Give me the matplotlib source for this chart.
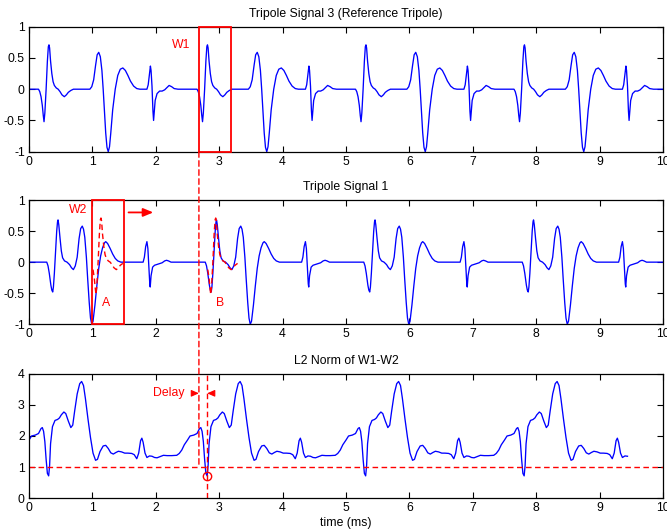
import numpy as np
import matplotlib
matplotlib.use("Agg")
import matplotlib.pyplot as plt
from matplotlib.patches import Rectangle, ConnectionPatch

plt.rcParams['font.family'] = ['Liberation Sans', 'DejaVu Sans']

# one beat of each trace (ms offset within a 2.5 ms cycle)
PERIOD = 2.5
beat_starts = [0.0, 2.5, 5.0, 7.5]

ref_t = [0.00, 0.15, 0.17, 0.19, 0.21, 0.225, 0.237, 0.25, 0.27, 0.29, 0.305, 0.315,
         0.325, 0.34, 0.36, 0.38, 0.40, 0.43, 0.46, 0.49, 0.52, 0.557, 0.59, 0.62,
         0.66, 0.70, 0.96, 0.99, 1.02, 1.05, 1.075, 1.10, 1.125, 1.15, 1.17, 1.19,
         1.21, 1.23, 1.25, 1.27, 1.29, 1.32, 1.36, 1.40, 1.44, 1.48, 1.52, 1.56,
         1.60, 1.65, 1.70, 1.75, 1.86, 1.88, 1.90, 1.915, 1.925, 1.94, 1.955, 1.965,
         1.975, 1.99, 2.02, 2.06, 2.10, 2.14, 2.17, 2.21, 2.25, 2.29, 2.35, 2.50]
ref_y = [0.00, 0.00, -0.04, -0.12, -0.26, -0.42, -0.52, -0.38, 0.00, 0.45, 0.68, 0.71,
         0.66, 0.45, 0.25, 0.12, 0.06, 0.02, 0.00, -0.04, -0.09, -0.12, -0.09, -0.05,
         -0.02, 0.00, 0.00, 0.04, 0.15, 0.38, 0.55, 0.59, 0.52, 0.30, 0.00, -0.35,
         -0.70, -0.93, -1.00, -0.92, -0.70, -0.33, 0.00, 0.22, 0.32, 0.34, 0.30, 0.22,
         0.13, 0.05, 0.01, 0.00, 0.00, 0.07, 0.25, 0.37, 0.30, 0.05, -0.35, -0.50,
         -0.38, -0.18, -0.07, -0.03, -0.03, -0.01, 0.02, 0.06, 0.04, 0.01, 0.00, 0.00]

sig1_t = [0.00, 0.28, 0.30, 0.32, 0.345, 0.36, 0.374, 0.385, 0.40, 0.42, 0.437, 0.45,
          0.458, 0.47, 0.49, 0.51, 0.53, 0.56, 0.60, 0.64, 0.67, 0.70, 0.73, 0.76,
          0.79, 0.815, 0.84, 0.86, 0.88, 0.905, 0.925, 0.95, 0.97, 0.99, 1.01, 1.04,
          1.07, 1.10, 1.13, 1.16, 1.19, 1.21, 1.24, 1.28, 1.32, 1.36, 1.40, 1.45,
          1.80, 1.82, 1.84, 1.86, 1.875, 1.89, 1.905, 1.912, 1.925, 1.95, 1.98, 2.04,
          2.10, 2.14, 2.17, 2.20, 2.24, 2.50]
sig1_y = [0.00, 0.00, -0.06, -0.18, -0.37, -0.45, -0.48, -0.40, -0.18, 0.18, 0.50, 0.65,
          0.68, 0.60, 0.38, 0.18, 0.07, 0.02, 0.00, -0.04, -0.09, -0.12, -0.06, 0.08,
          0.38, 0.54, 0.58, 0.53, 0.40, 0.08, -0.26, -0.65, -0.90, -1.00, -0.95, -0.69,
          -0.38, -0.10, 0.10, 0.23, 0.31, 0.33, 0.30, 0.22, 0.13, 0.06, 0.02, 0.00,
          0.00, 0.08, 0.25, 0.33, 0.22, -0.05, -0.35, -0.40, -0.22, -0.08, -0.05, -0.03,
          -0.01, 0.02, 0.03, 0.02, 0.00, 0.00]

norm_t = [0.00, 0.04, 0.10, 0.15, 0.19, 0.21, 0.23, 0.25, 0.27, 0.29, 0.31, 0.325,
          0.34, 0.37, 0.41, 0.45, 0.48, 0.51, 0.55, 0.58, 0.62, 0.66, 0.69, 0.72,
          0.76, 0.80, 0.83, 0.86, 0.89, 0.93, 0.97, 1.01, 1.05, 1.08, 1.12, 1.17,
          1.21, 1.25, 1.29, 1.33, 1.37, 1.41, 1.46, 1.51, 1.56, 1.62, 1.66, 1.70,
          1.73, 1.76, 1.78, 1.80, 1.83, 1.86, 1.90, 1.94, 1.98, 2.02, 2.07, 2.12,
          2.18, 2.25, 2.33, 2.37, 2.41, 2.45, 2.50]
norm_y = [1.87, 2.00, 2.03, 2.08, 2.24, 2.27, 2.15, 1.82, 1.25, 0.80, 0.72, 1.05,
          1.75, 2.30, 2.50, 2.53, 2.58, 2.68, 2.77, 2.72, 2.48, 2.27, 2.35, 2.80,
          3.35, 3.68, 3.75, 3.62, 3.20, 2.55, 1.95, 1.45, 1.22, 1.25, 1.50, 1.68,
          1.70, 1.60, 1.46, 1.42, 1.47, 1.51, 1.49, 1.45, 1.45, 1.44, 1.40, 1.27,
          1.45, 1.85, 1.93, 1.80, 1.45, 1.31, 1.36, 1.35, 1.31, 1.30, 1.34, 1.38,
          1.37, 1.37, 1.38, 1.44, 1.55, 1.72, 1.87]
norm_end = 9.47

# windows and markers
w1 = (2.68, 3.19)
w2 = (1.0, 1.5)
match_t = 2.81
min_val = 0.73
threshold = 1.0
overlay_shifts = [w2[0] - w1[0], match_t - w1[0]]

FS = 8.8


def tile(t, y, end=None):
    tt, yy = [], []
    for s in beat_starts:
        for a, b in zip(t, y):
            if tt and abs(tt[-1] - (a + s)) < 1e-9:
                continue
            if end is not None and a + s > end:
                break
            tt.append(a + s)
            yy.append(b)
    return np.array(tt), np.array(yy)


def style(ax, ylim, yticks, yticklabels):
    ax.set_xlim(0, 10)
    ax.set_ylim(*ylim)
    ax.set_xticks(range(11))
    ax.set_yticks(yticks)
    ax.set_yticklabels(yticklabels)
    ax.tick_params(direction='in', top=True, right=True, length=4.3, width=0.8,
                   labelsize=FS, pad=3)
    for sp in ax.spines.values():
        sp.set_linewidth(0.9)


ref_tt, ref_yy = tile(ref_t, ref_y)
s1_tt, s1_yy = tile(sig1_t, sig1_y)
n_tt, n_yy = tile(norm_t, norm_y, end=norm_end)

fig = plt.figure(figsize=(6.67, 5.29), dpi=100)
left, width = 29 / 667, 634 / 667
ax1 = fig.add_axes([left, 1 - 151.7 / 529, width, 125 / 529])
ax2 = fig.add_axes([left, 1 - 324.3 / 529, width, 124.3 / 529])
ax3 = fig.add_axes([left, 1 - 498.3 / 529, width, 124.6 / 529])

blue = '#0000ff'
red = '#ff0000'
dash = (0, (4, 2.5))

# top: reference tripole with window W1
ax1.plot(ref_tt, ref_yy, color=blue, lw=0.95)
ax1.add_patch(Rectangle((w1[0], -1), w1[1] - w1[0], 2, fill=False, ec=red, lw=1.3,
                        clip_on=False, zorder=3))
ax1.text(2.40, 0.71, 'W1', color=red, fontsize=FS, ha='center', va='center')
style(ax1, (-1, 1), [-1, -0.5, 0, 0.5, 1], ['-1', '-0.5', '0', '0.5', '1'])
ax1.set_title('Tripole Signal 3 (Reference Tripole)', fontsize=FS, pad=7)

# middle: signal 1 with sliding window W2 and the W1 template overlaid
ax2.plot(s1_tt, s1_yy, color=blue, lw=0.95)
rt = np.array(ref_t)
ry = np.array(ref_y)
off0, off1 = w1[0] - beat_starts[1], w1[1] - beat_starts[1]
sel = (rt >= off0 - 0.005) & (rt <= off1 + 0.005)
for sh in overlay_shifts:
    ax2.plot(rt[sel] + beat_starts[1] + sh, ry[sel], color=red, lw=1.0,
             linestyle=dash, zorder=3)
ax2.add_patch(Rectangle((w2[0], -1), w2[1] - w2[0], 2, fill=False, ec=red, lw=1.3,
                        clip_on=False, zorder=3))
ax2.text(0.77, 0.84, 'W2', color=red, fontsize=FS, ha='center', va='center')
ax2.text(1.21, -0.65, 'A', color=red, fontsize=FS, ha='center', va='center')
ax2.text(3.01, -0.65, 'B', color=red, fontsize=FS, ha='center', va='center')
ax2.annotate('', xy=(1.96, 0.80), xytext=(1.57, 0.80),
             arrowprops=dict(arrowstyle='-|>,head_length=0.6,head_width=0.25',
                             color=red, lw=1.3, shrinkA=0, shrinkB=0))
style(ax2, (-1, 1), [-1, -0.5, 0, 0.5, 1], ['-1', '-0.5', '0', '0.5', '1'])
ax2.set_title('Tripole Signal 1', fontsize=FS, pad=7)

# bottom: L2 norm of the difference
ax3.plot(n_tt, n_yy, color=blue, lw=0.95)
ax3.axhline(threshold, color=red, lw=1.0, linestyle=dash)
ax3.axvline(match_t, color=red, lw=1.0, linestyle=dash)
ax3.plot([match_t], [min_val], 'o', mfc='none', mec=red, ms=6, mew=1.0)
ax3.text(2.21, 3.39, 'Delay', color=red, fontsize=FS, ha='center', va='center')
ax3.annotate('', xy=(w1[0], 3.37), xytext=(w1[0] - 0.11, 3.37),
             arrowprops=dict(arrowstyle='-|>,head_length=0.45,head_width=0.2',
                             color=red, lw=0.8, shrinkA=0, shrinkB=0))
ax3.annotate('', xy=(match_t, 3.37), xytext=(match_t + 0.11, 3.37),
             arrowprops=dict(arrowstyle='-|>,head_length=0.45,head_width=0.2',
                             color=red, lw=0.8, shrinkA=0, shrinkB=0))
style(ax3, (0, 4), [0, 1, 2, 3, 4], ['0', '1', '2', '3', '4'])
ax3.set_title('L2 Norm of W1-W2', fontsize=FS, pad=7)
ax3.set_xlabel('time (ms)', fontsize=FS, labelpad=2)

# dashed line joining the start of W1 down to the threshold
con = ConnectionPatch(xyA=(w1[0], -1), coordsA='data', axesA=ax1,
                      xyB=(w1[0], threshold), coordsB='data', axesB=ax3,
                      color=red, lw=1.0, linestyle=dash)
fig.add_artist(con)

fig.savefig('out.png', dpi=100)
